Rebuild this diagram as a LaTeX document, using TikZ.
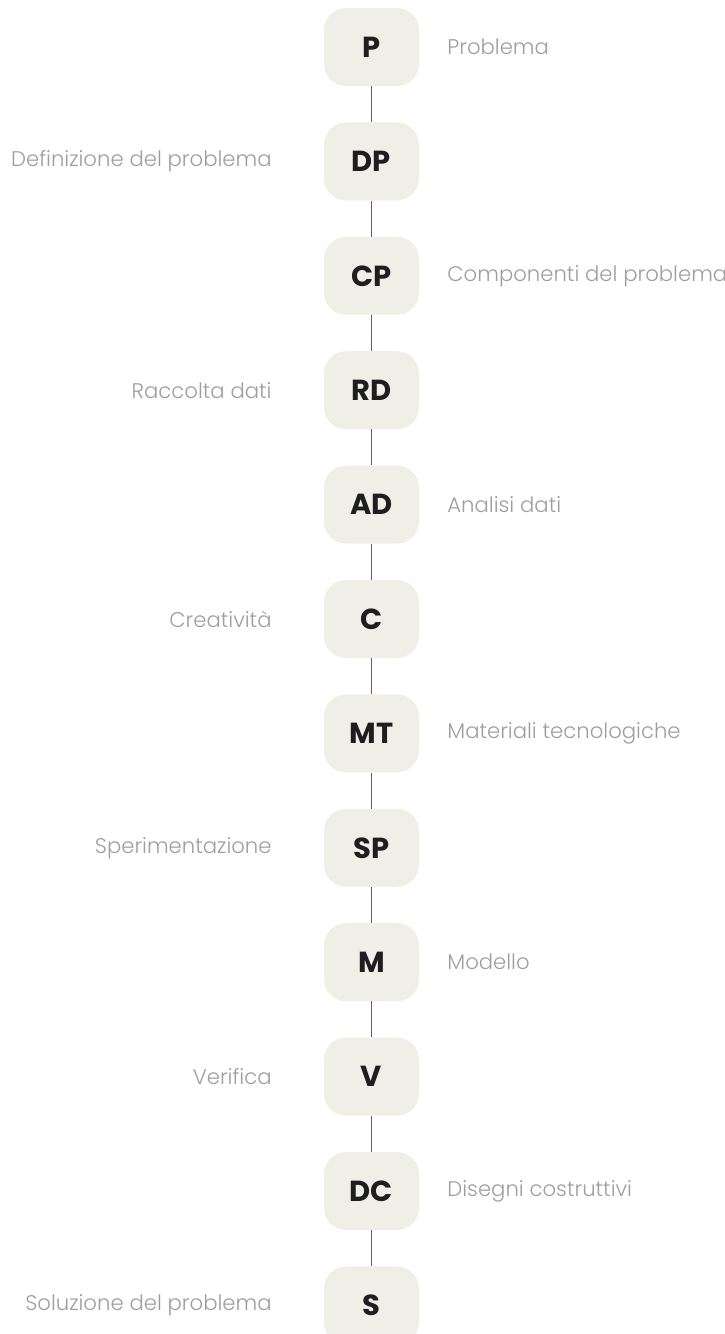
\documentclass[tikz,border=0pt]{standalone}
\usepackage{fontspec}
\setmainfont{Poppins}[UprightFont=* Light, BoldFont=* Bold]
\usetikzlibrary{positioning}
\definecolor{boxfill}{HTML}{F0EFE7}
\definecolor{boxtext}{HTML}{1E1E1E}
\definecolor{labeltext}{HTML}{9E9E9E}
\definecolor{linkline}{HTML}{5B6170}

\begin{document}
\begin{tikzpicture}
[x=1pt,y=1pt,
every node/.style={align=center},
stepbox/.style={shape=rectangle,rounded corners=22pt,fill=boxfill,text=boxtext,
  minimum width=95pt,minimum height=78pt,inner sep=0pt,
  font=\fontsize{29}{32}\selectfont\bfseries},
note/.style={text=labeltext,inner sep=0pt,font=\fontsize{21.2}{25}\selectfont},
link/.style={draw=linkline,line width=1.1pt},
node distance=36pt]

\useasboundingbox (0,0) rectangle (725,-1334);

\node[stepbox] (p) at (371.5,-47) {P};
\node[stepbox,below=of p] (dp) {DP};
\node[stepbox,below=of dp] (cp) {CP};
\node[stepbox,below=of cp] (rd) {RD};
\node[stepbox,below=of rd] (ad) {AD};
\node[stepbox,below=of ad] (c) {C};
\node[stepbox,below=of c] (mt) {MT};
\node[stepbox,below=of mt] (sp) {SP};
\node[stepbox,below=of sp] (m) {M};
\node[stepbox,below=of m] (v) {V};
\node[stepbox,below=of v] (dc) {DC};
\node[stepbox,below=of dc] (s) {S};

% labels, alternating sides
\node[note,right=28pt of p] (p-note) {Problema};
\node[note,left=52pt of dp] (dp-note) {Definizione del problema};
\node[note,right=28pt of cp] (cp-note) {Componenti del problema};
\node[note,left=52pt of rd] (rd-note) {Raccolta dati};
\node[note,right=28pt of ad] (ad-note) {Analisi dati};
\node[note,left=52pt of c] (c-note) {Creatività};
\node[note,right=28pt of mt] (mt-note) {Materiali tecnologiche};
\node[note,left=52pt of sp] (sp-note) {Sperimentazione};
\node[note,right=28pt of m] (m-note) {Modello};
\node[note,left=52pt of v] (v-note) {Verifica};
\node[note,right=28pt of dc] (dc-note) {Disegni costruttivi};
\node[note,left=52pt of s] (s-note) {Soluzione del problema};

\draw[link] (p) -- (dp);
\draw[link] (dp) -- (cp);
\draw[link] (cp) -- (rd);
\draw[link] (rd) -- (ad);
\draw[link] (ad) -- (c);
\draw[link] (c) -- (mt);
\draw[link] (mt) -- (sp);
\draw[link] (sp) -- (m);
\draw[link] (m) -- (v);
\draw[link] (v) -- (dc);
\draw[link] (dc) -- (s);
\end{tikzpicture}
\end{document}
